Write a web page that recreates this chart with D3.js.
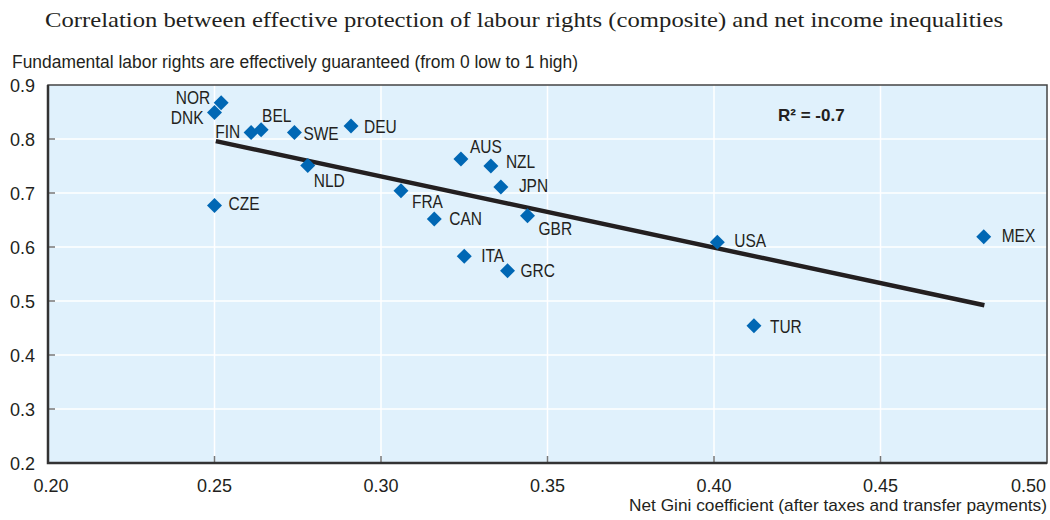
<!DOCTYPE html>
<html>
<head>
<meta charset="utf-8">
<script src="https://cdn.jsdelivr.net/npm/d3@7"></script>
<style>
  body { margin: 0; background: #fff; }
  svg { display: block; }
</style>
</head>
<body>
<div id="chart"></div>
<script>
const countries = ["NOR", "DNK", "FIN", "BEL", "SWE", "DEU", "NLD", "CZE", "AUS", "NZL",
	"JPN", "FRA", "CAN", "GBR", "ITA", "GRC", "USA", "MEX", "TUR"];
const gini = [0.252, 0.250, 0.261, 0.264, 0.274, 0.291, 0.278, 0.250, 0.324, 0.333,
	0.336, 0.306, 0.316, 0.344, 0.325, 0.338, 0.401, 0.481, 0.412];
const labourRights = [0.867, 0.849, 0.812, 0.817, 0.812, 0.824, 0.751, 0.677, 0.763, 0.750,
	0.711, 0.704, 0.652, 0.658, 0.583, 0.556, 0.609, 0.619, 0.454];
const trendGini = [0.2504, 0.4812];
const trendRights = [0.796, 0.492];
const xTicks = [0.20, 0.25, 0.30, 0.35, 0.40, 0.45, 0.50];
const yTicks = [0.2, 0.3, 0.4, 0.5, 0.6, 0.7, 0.8, 0.9];
const rSquared = "R² = -0.7";

const W = 1050, H = 520;
const LEFT = 48, RIGHT = 1047, TOP = 85, BOTTOM = 463;
const SANS = "'Liberation Sans Narrow', 'Arial Narrow', 'Liberation Sans', sans-serif";
const INK = "#231f20";

// where each label sits relative to its marker: dx, dy (baseline), anchor
const labelPlace = {
	NOR: [-11, 1, "end"], DNK: [-11, 11, "end"], FIN: [-11, 5, "end"], BEL: [1, -8, "start"],
	SWE: [9, 7, "start"], DEU: [13, 7, "start"], NLD: [6, 22, "start"], CZE: [14, 5, "start"],
	AUS: [9, -6, "start"], NZL: [15, 2, "start"], JPN: [18, 5, "start"], FRA: [11, 17, "start"],
	CAN: [15, 6, "start"], GBR: [11, 19, "start"], ITA: [17, 6, "start"], GRC: [13, 6, "start"],
	USA: [17, 5, "start"], MEX: [18, 5, "start"], TUR: [16, 7, "start"]
};

// squeeze text horizontally, the reference uses a condensed face
function condense(sel, factor) {
	sel.each(function () {
		const len = this.getComputedTextLength();
		d3.select(this).attr("textLength", len * factor).attr("lengthAdjust", "spacingAndGlyphs");
	});
}

const x = d3.scaleLinear().domain([0.2, 0.5]).range([LEFT, RIGHT]);
const y = d3.scaleLinear().domain([0.2, 0.9]).range([BOTTOM, TOP]);

const svg = d3.select("#chart").append("svg")
	.attr("width", W)
	.attr("height", H);

svg.append("text")
	.attr("x", 524)
	.attr("y", 27)
	.attr("text-anchor", "middle")
	.attr("textLength", 958)
	.attr("lengthAdjust", "spacingAndGlyphs")
	.style("font-family", "'Liberation Serif', serif")
	.style("font-size", "22px")
	.style("fill", INK)
	.text("Correlation between effective protection of labour rights (composite) and net income inequalities");

svg.append("text")
	.attr("x", 12)
	.attr("y", 68)
	.attr("textLength", 566)
	.attr("lengthAdjust", "spacingAndGlyphs")
	.style("font-family", SANS)
	.style("font-size", "17.5px")
	.style("fill", INK)
	.text("Fundamental labor rights are effectively guaranteed (from 0 low to 1 high)");

// plot background
svg.append("rect")
	.attr("x", LEFT).attr("y", TOP)
	.attr("width", RIGHT - LEFT).attr("height", BOTTOM - TOP)
	.style("fill", "#e0f1fc");

// grid
svg.append("g").selectAll("line").data(xTicks.slice(1, -1)).enter().append("line")
	.attr("x1", (d) => x(d)).attr("x2", (d) => x(d))
	.attr("y1", TOP).attr("y2", BOTTOM)
	.style("stroke", "#fff").style("stroke-width", 1.5);
svg.append("g").selectAll("line").data(yTicks.slice(1, -1)).enter().append("line")
	.attr("x1", LEFT).attr("x2", RIGHT)
	.attr("y1", (d) => y(d)).attr("y2", (d) => y(d))
	.style("stroke", "#fff").style("stroke-width", 1.5);

// small inner ticks
svg.append("g").selectAll("line").data(xTicks.slice(1, -1)).enter().append("line")
	.attr("x1", (d) => x(d)).attr("x2", (d) => x(d))
	.attr("y1", BOTTOM - 7).attr("y2", BOTTOM)
	.style("stroke", "#777").style("stroke-width", 1.5);
svg.append("g").selectAll("line").data(yTicks.slice(1, -1)).enter().append("line")
	.attr("x1", LEFT).attr("x2", LEFT + 7)
	.attr("y1", (d) => y(d)).attr("y2", (d) => y(d))
	.style("stroke", "#777").style("stroke-width", 1.5);

// frame
svg.append("rect")
	.attr("x", LEFT).attr("y", TOP)
	.attr("width", RIGHT - LEFT).attr("height", BOTTOM - TOP)
	.style("fill", "none").style("stroke", "#444").style("stroke-width", 1.5);
svg.append("path")
	.attr("d", `M${LEFT},${TOP}V${BOTTOM}H${RIGHT}`)
	.style("fill", "none").style("stroke", "#333").style("stroke-width", 2.5);

// tick labels
svg.append("g").selectAll("text").data(yTicks).enter().append("text")
	.attr("x", 35)
	.attr("y", (d) => y(d) + 6.5)
	.attr("text-anchor", "end")
	.style("font-family", SANS).style("font-size", "18px").style("fill", INK)
	.text((d) => d3.format(".1f")(d));
svg.append("g").selectAll("text").data(xTicks).enter().append("text")
	.attr("x", (d, i) => i === xTicks.length - 1 ? RIGHT - 1 : x(d) + (i === 0 ? 3 : 0))
	.attr("y", BOTTOM + 29)
	.attr("text-anchor", (d, i) => i === xTicks.length - 1 ? "end" : "middle")
	.style("font-family", SANS).style("font-size", "18px").style("fill", INK)
	.text((d) => d3.format(".2f")(d));

svg.append("text")
	.attr("x", RIGHT)
	.attr("y", 511)
	.attr("text-anchor", "end")
	.attr("textLength", 418)
	.attr("lengthAdjust", "spacingAndGlyphs")
	.style("font-family", SANS).style("font-size", "17px").style("fill", INK)
	.text("Net Gini coefficient (after taxes and transfer payments)");

// trend line
svg.append("line")
	.attr("x1", x(trendGini[0])).attr("y1", y(trendRights[0]))
	.attr("x2", x(trendGini[1])).attr("y2", y(trendRights[1]))
	.style("stroke", INK).style("stroke-width", 4.5);

svg.append("text")
	.attr("x", 778)
	.attr("y", 121)
	.style("font-family", SANS).style("font-size", "17px")
	.style("font-weight", "bold").style("fill", INK)
	.text(rSquared);

const points = countries.map((c, i) => ({code: c, gx: gini[i], ly: labourRights[i]}));
const diamond = d3.symbol(d3.symbolSquare, 112)();

svg.append("g").selectAll("path").data(points).enter().append("path")
	.attr("d", diamond)
	.attr("transform", (d) => `translate(${x(d.gx)},${y(d.ly)}) rotate(45)`)
	.style("fill", "#0067b4");

svg.append("g").selectAll("text").data(points).enter().append("text")
	.attr("x", (d) => x(d.gx) + labelPlace[d.code][0])
	.attr("y", (d) => y(d.ly) + labelPlace[d.code][1])
	.attr("text-anchor", (d) => labelPlace[d.code][2])
	.style("font-family", SANS).style("font-size", "18px").style("fill", INK)
	.text((d) => d.code)
	.call(condense, 0.86);
</script>
</body>
</html>
